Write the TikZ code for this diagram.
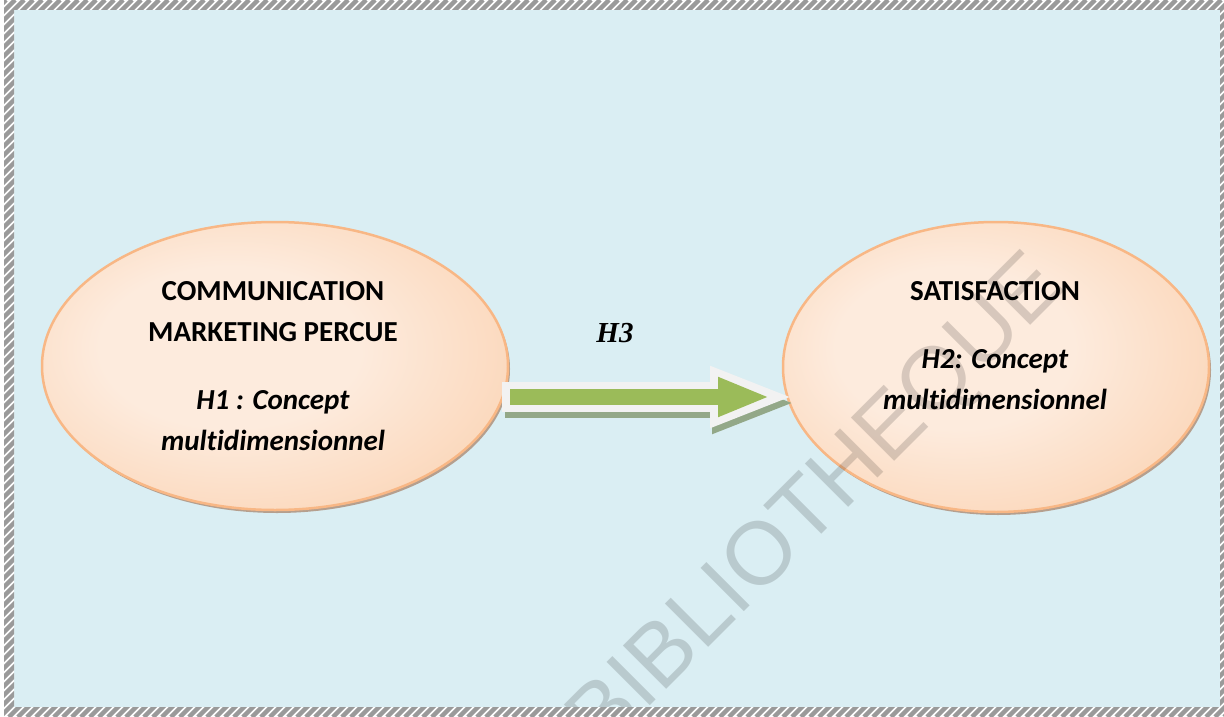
\documentclass[tikz,border=0pt]{standalone}
\usepackage{fontspec}
\setmainfont{Carlito}[Ligatures=NoCommon]
\newfontfamily\wmfont{Liberation Sans}
\newfontfamily\hypfont{Liberation Serif}
\usetikzlibrary{shapes.geometric,arrows.meta}
\definecolor{bgblue}{HTML}{DAEEF3}
\definecolor{peachlight}{HTML}{FDEBDD}
\definecolor{peachdark}{HTML}{F9C194}
\definecolor{peachline}{HTML}{F8B785}
\definecolor{shadowbrown}{HTML}{B59F8E}
\definecolor{arrowgreen}{HTML}{9BBB59}
\definecolor{arrowwhite}{HTML}{F2F2F2}
\definecolor{arrowshade}{HTML}{93A888}
\definecolor{hatchgray}{HTML}{9A9A9A}
\pgfdeclareradialshading{peachshade}{\pgfpoint{-6bp}{4bp}}{color(0bp)=(peachlight); color(14bp)=(peachlight); color(50bp)=(peachdark); color(72bp)=(peachdark)}
\tikzset{
  ellbox/.style={ellipse,draw=peachline,line width=2.5pt,shading=peachshade,inner sep=0pt,outer sep=0pt},
  ellshadow/.style={ellipse,fill=shadowbrown,inner sep=0pt,outer sep=0pt},
  lbl/.style={align=center,anchor=north,inner sep=0pt,font=\fontsize{29}{41}\selectfont\bfseries},
  wmark/.style={font=\wmfont\fontsize{89}{89}\selectfont,text=black,text opacity=0.15,rotate=45},
}

\begin{document}
\begin{tikzpicture}[x=1pt,y=-1pt]
\useasboundingbox (0,0) rectangle (1224,717);
\fill[white] (0,0) rectangle (1224,717);
\fill[bgblue] (14,10) rectangle (1220,707);
% ellipses with their shadows
\node[ellshadow,minimum width=466pt,minimum height=288pt] at (277,369) {};
\node[ellshadow,minimum width=426pt,minimum height=290pt] at (998,370) {};
\node[ellbox,minimum width=466pt,minimum height=288pt] (comm) at (275,366) {};
\node[ellbox,minimum width=426pt,minimum height=290pt] (satis) at (996,367) {};
% H3 arrow
\draw[arrowshade,line width=30pt,-{Triangle[length=85pt,width=55pt]}] ([shift={(-3,37)}]comm.east) -- ([shift={(14,36)}]satis.west);
\draw[arrowwhite,line width=30pt,-{Triangle[length=85pt,width=55pt]}] ([shift={(-6,31)}]comm.east) -- ([shift={(12,30)}]satis.west);
\draw[arrowgreen,line width=16pt,-{Triangle[length=52pt,width=36pt]}] ([shift={(2,31)}]comm.east) -- ([shift={(-13,30)}]satis.west);
\node[wmark] (wm) at (819,505) {BIBLIOTHEQUE};
\node[lbl] (commtxt) at (273,281) {COMMUNICATION\\MARKETING PERCUE\\[27pt]\textit{H1 : Concept}\\\textit{multidimensionnel}};
\node[lbl] (satistxt) at (995,281) {SATISFACTION\\[27pt]\textit{H2: Concept}\\\textit{multidimensionnel}};
\node[anchor=base,inner sep=0pt,font=\hypfont\fontsize{29}{29}\selectfont\bfseries\itshape] (hyp) at (615,342) {H3};
% hatched frame
\begin{scope}[even odd rule]
\clip (4,0) rectangle (1224,717) (14,10) rectangle (1220,707);
\fill[white] (0,0) rectangle (1224,717);
\foreach \i in {-720,-711,...,1230}{\draw[hatchgray,line width=4.5pt] (\i,717) -- ++(717,-717);}
\end{scope}
\end{tikzpicture}
\end{document}
